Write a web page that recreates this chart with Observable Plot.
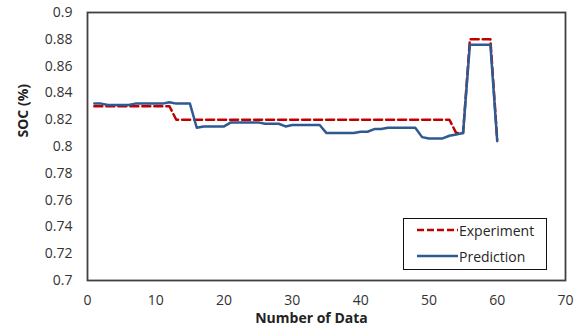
<!DOCTYPE html>
<html><head><meta charset="utf-8">
<script src="https://cdn.jsdelivr.net/npm/d3@7"></script>
<script src="https://cdn.jsdelivr.net/npm/@observablehq/plot@0.6"></script>
<style>
body{margin:0;background:#fff;font-family:"Open Sans",sans-serif;}
#wrap{position:relative;width:582px;height:336px;}
#legend{position:absolute;left:403px;top:218px;width:142px;height:50px;border:1.6px solid #111;background:#fff;}
.row{position:absolute;left:13px;display:flex;align-items:center;font-size:14px;color:#262626;height:20px;}
.row svg{display:block;margin-right:1px;}
</style></head><body><div id="wrap"></div>
<script>
const dataIndex = [1,2,3,4,5,6,7,8,9,10,11,12,13,14,15,16,17,18,19,20,21,22,23,24,25,26,27,28,29,30,31,32,33,34,35,36,37,38,39,40,41,42,43,44,45,46,47,48,49,50,51,52,53,54,55,56,57,58,59,60];
const experiment = [0.83,0.83,0.83,0.83,0.83,0.83,0.83,0.83,0.83,0.83,0.83,0.83,
  0.82,0.82,0.82,0.82,0.82,0.82,0.82,0.82,0.82,0.82,0.82,0.82,0.82,0.82,0.82,0.82,0.82,0.82,
  0.82,0.82,0.82,0.82,0.82,0.82,0.82,0.82,0.82,0.82,0.82,0.82,0.82,0.82,0.82,0.82,0.82,0.82,
  0.82,0.82,0.82,0.82,0.82,0.81,0.81,0.88,0.88,0.88,0.88,0.805];
const prediction = [0.832,0.832,0.831,0.831,0.831,0.831,0.832,0.832,0.832,0.832,0.832,0.833,0.832,0.832,0.832,
  0.814,0.815,0.815,0.815,0.815,0.818,0.818,0.818,0.818,0.818,0.817,0.817,0.817,0.815,0.816,
  0.816,0.816,0.816,0.816,0.810,0.810,0.810,0.810,0.810,0.811,0.811,0.813,0.813,0.814,0.814,
  0.814,0.814,0.814,0.807,0.806,0.806,0.806,0.808,0.809,0.810,0.876,0.876,0.876,0.876,0.804];
const xTicks = [0,10,20,30,40,50,60,70];
const yTicks = [0.7,0.72,0.74,0.76,0.78,0.8,0.82,0.84,0.86,0.88,0.9];
const seriesNames = ["Experiment","Prediction"];
const seriesColors = ["#C00000","#2E5A94"];
const xTitle = "Number of Data";
const yTitle = "SOC (%)";

const rows = dataIndex.map((i, k) => ({i, exp: experiment[k], pred: prediction[k]}));

const chart = Plot.plot({
  width: 582, height: 336,
  marginLeft: 87, marginRight: 17, marginTop: 12, marginBottom: 56,
  style: {fontFamily: "Open Sans", fontSize: "14px", color: "#333", background: "#fff"},
  x: {domain: [0, 70]},
  y: {domain: [0.7, 0.9]},
  marks: [
    Plot.axisX({ticks: xTicks, tickSize: 0, tickPadding: 15, label: null, fontSize: 14}),
    Plot.axisY({ticks: yTicks, tickSize: 0, tickPadding: 15, label: null, fontSize: 14,
      tickFormat: d => String(+d.toFixed(2))}),
    Plot.line(rows, {x: "i", y: "exp", stroke: seriesColors[0], strokeWidth: 2.5, strokeDasharray: "8,4"}),
    Plot.line(rows, {x: "i", y: "pred", stroke: seriesColors[1], strokeWidth: 2.5}),
    Plot.frame({stroke: "#404040", strokeWidth: 1.8}),
    Plot.text([xTitle], {frameAnchor: "bottom", dy: 42, dx: -15, fontWeight: "bold", fontSize: 14, fill: "#222"}),
    Plot.text([yTitle], {frameAnchor: "left", rotate: -90, dx: -64, dy: -9, fontWeight: "bold", fontSize: 14, fill: "#222"})
  ]
});

const wrap = document.getElementById("wrap");
wrap.appendChild(chart);
const legend = document.createElement("div");
legend.id = "legend";
seriesNames.forEach((name, k) => {
  const row = document.createElement("div");
  row.className = "row";
  row.style.top = (k === 0 ? 1 : 27) + "px";
  const dash = k === 0 ? 'stroke-dasharray="7,3"' : '';
  row.innerHTML = `<svg width="41" height="4"><line x1="0" y1="2" x2="41" y2="2" stroke="${seriesColors[k]}" stroke-width="2.5" ${dash}/></svg><span>${name}</span>`;
  legend.appendChild(row);
});
wrap.appendChild(legend);
</script>
</body></html>
